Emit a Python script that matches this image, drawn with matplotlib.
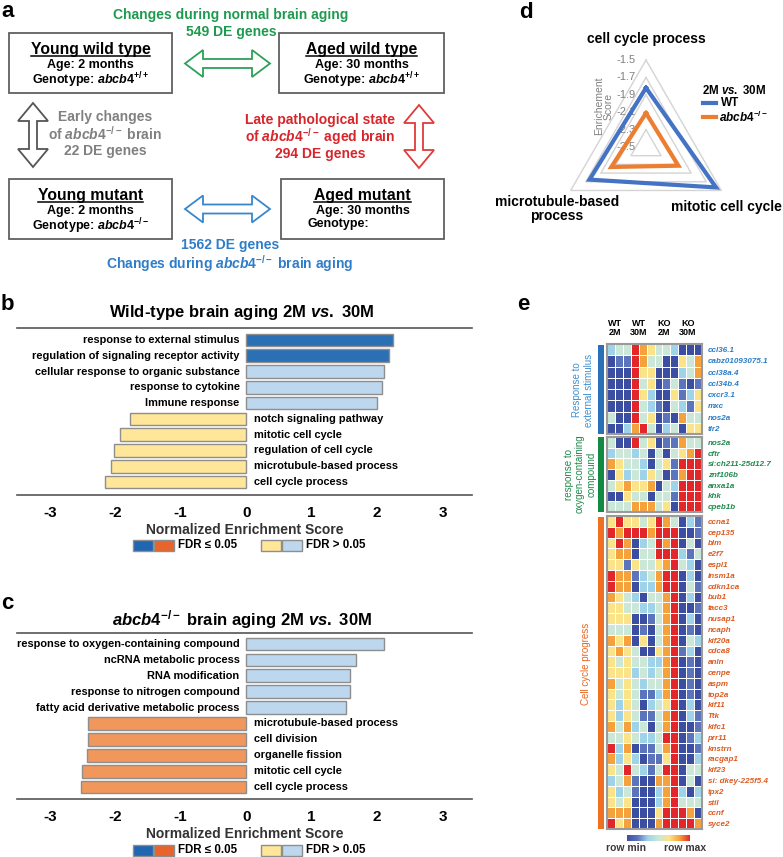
import numpy as np
import matplotlib
matplotlib.use('Agg')
import matplotlib.pyplot as plt
from matplotlib.patches import Rectangle, Polygon
from matplotlib.colors import LinearSegmentedColormap, Normalize
from matplotlib.cm import ScalarMappable
from matplotlib.lines import Line2D

plt.rcParams['font.family'] = ['Liberation Sans', 'DejaVu Sans']
plt.rcParams['font.weight'] = 'bold'
plt.rcParams['axes.labelweight'] = 'bold'
plt.rcParams['axes.unicode_minus'] = False
plt.rcParams['mathtext.fontset'] = 'custom'
plt.rcParams['mathtext.it'] = 'Liberation Sans:italic:bold'
plt.rcParams['mathtext.rm'] = 'Liberation Sans:bold'
plt.rcParams['mathtext.bf'] = 'Liberation Sans:bold'
plt.rcParams['mathtext.sf'] = 'Liberation Sans:bold'

W, H = 783, 857

# ---- panel b: wild-type aging GSEA
b_terms = ['response to external stimulus', 'regulation of signaling receptor activity',
           'cellular response to organic substance', 'response to cytokine', 'Immune response',
           'notch signaling pathway', 'mitotic cell cycle', 'regulation of cell cycle',
           'microtubule-based process', 'cell cycle process']
b_nes = [2.25, 2.18, 2.11, 2.07, 2.00, -1.77, -1.92, -2.02, -2.06, -2.15]
b_sig = [True, True, False, False, False, False, False, False, False, False]

# ---- panel c: abcb4-/- aging GSEA
c_terms = ['response to oxygen-containing compound', 'ncRNA metabolic process',
           'RNA modification', 'response to nitrogen compound',
           'fatty acid derivative metabolic process', 'microtubule-based process',
           'cell division', 'organelle fission', 'mitotic cell cycle', 'cell cycle process']
c_nes = [2.10, 1.68, 1.58, 1.58, 1.52, -2.41, -2.42, -2.43, -2.50, -2.52]
c_sig = [False, False, False, False, False, True, True, True, True, True]
nes_ticks = [-3, -2, -1, 0, 1, 2, 3]

# ---- panel d: radar
radar_terms = ['cell cycle process', 'mitotic cell cycle', 'microtubule-based\nprocess']
radar_wt = [-1.82, -1.57, -1.75]
radar_ko = [-2.11, -2.07, -2.04]
radar_ticks = [-1.5, -1.7, -1.9, -2.1, -2.3, -2.5]

# ---- panel e: heatmap (0 = row min ... 6 = row max)
heat_groups = ['WT\n2M', 'WT\n30M', 'KO\n2M', 'KO\n30M']
genes_ext = ['ccl36.1', 'cabz01093075.1', 'ccl38a.4', 'ccl34b.4', 'cxcr3.1', 'mxc', 'nos2a', 'tlr2']
heat_ext = [
    [2, 3, 3, 6, 5, 4, 3, 3, 2, 0, 0, 0],
    [0, 1, 1, 6, 5, 3, 3, 0, 0, 4, 3, 5],
    [0, 0, 0, 6, 4, 4, 0, 0, 0, 2, 3, 5],
    [0, 0, 0, 6, 3, 4, 0, 1, 3, 1, 0, 1],
    [0, 0, 0, 6, 4, 2, 0, 0, 4, 1, 2, 4],
    [0, 0, 0, 6, 3, 2, 1, 0, 3, 2, 1, 4],
    [3, 0, 0, 6, 3, 4, 0, 1, 0, 5, 3, 3],
    [0, 0, 2, 5, 6, 3, 0, 2, 3, 0, 4, 4],
]
genes_oxy = ['nos2a', 'cftr', 'si:ch211-25d12.7', 'znf106b', 'anxa1a', 'khk', 'cpeb1b']
heat_oxy = [
    [3, 0, 0, 6, 3, 4, 0, 1, 1, 5, 3, 3],
    [2, 3, 3, 2, 3, 0, 3, 0, 3, 4, 5, 6],
    [5, 4, 3, 3, 2, 0, 3, 4, 1, 6, 6, 6],
    [0, 4, 2, 3, 2, 4, 3, 0, 1, 5, 6, 6],
    [3, 4, 5, 4, 4, 5, 0, 3, 2, 6, 6, 6],
    [0, 0, 4, 3, 3, 0, 3, 3, 1, 6, 6, 6],
    [3, 3, 3, 5, 5, 5, 3, 4, 0, 6, 6, 6],
]
genes_cc = ['ccna1', 'cep135', 'blm', 'e2f7', 'espl1', 'insm1a', 'cdkn1ca', 'bub1', 'tacc3',
            'nusap1', 'ncaph', 'kif20a', 'cdca8', 'anln', 'cenpe', 'aspm', 'top2a', 'kif11',
            'Ttk', 'kifc1', 'prr11', 'knstrn', 'racgap1', 'kif23', 'si: dkey-225f5.4', 'tpx2',
            'stil', 'ccnf', 'syce2']
heat_cc = [
    [4, 6, 4, 4, 3, 4, 6, 5, 3, 0, 2, 1],
    [6, 5, 6, 6, 6, 5, 6, 6, 6, 0, 0, 1],
    [4, 6, 5, 0, 2, 3, 6, 5, 6, 0, 3, 0],
    [4, 5, 5, 0, 3, 3, 6, 6, 6, 2, 1, 3],
    [4, 4, 1, 4, 3, 3, 4, 5, 6, 3, 2, 0],
    [6, 5, 5, 1, 2, 3, 5, 6, 6, 0, 2, 0],
    [6, 5, 5, 0, 2, 2, 5, 6, 6, 0, 3, 1],
    [5, 4, 3, 2, 0, 3, 3, 5, 6, 0, 2, 0],
    [4, 4, 3, 3, 2, 2, 3, 5, 6, 0, 0, 1],
    [4, 4, 4, 0, 0, 1, 3, 5, 6, 0, 2, 0],
    [3, 3, 3, 0, 1, 0, 3, 5, 6, 0, 1, 0],
    [5, 4, 5, 0, 4, 0, 3, 5, 6, 0, 3, 2],
    [4, 5, 4, 3, 0, 0, 4, 5, 6, 1, 2, 0],
    [4, 3, 4, 3, 3, 2, 2, 5, 6, 0, 1, 0],
    [4, 4, 4, 2, 3, 2, 3, 5, 6, 0, 1, 0],
    [5, 3, 4, 3, 2, 3, 3, 5, 6, 0, 1, 0],
    [4, 3, 4, 3, 1, 1, 2, 5, 6, 0, 1, 0],
    [4, 2, 4, 3, 0, 2, 3, 4, 6, 0, 2, 0],
    [4, 2, 4, 3, 1, 1, 3, 5, 6, 0, 2, 1],
    [5, 3, 5, 2, 3, 0, 3, 5, 6, 0, 0, 1],
    [3, 3, 4, 3, 2, 2, 3, 6, 6, 0, 1, 2],
    [6, 2, 5, 0, 1, 1, 3, 5, 6, 0, 0, 1],
    [5, 2, 4, 2, 0, 1, 1, 4, 6, 0, 0, 2],
    [4, 3, 6, 3, 2, 1, 3, 6, 6, 0, 3, 3],
    [2, 3, 5, 1, 0, 0, 5, 5, 6, 0, 3, 0],
    [4, 2, 3, 1, 0, 0, 2, 5, 6, 2, 0, 2],
    [4, 3, 4, 0, 0, 0, 2, 5, 6, 3, 3, 3],
    [5, 5, 5, 0, 0, 0, 4, 6, 6, 6, 5, 0],
    [6, 4, 5, 0, 0, 0, 5, 6, 6, 6, 6, 5],
]

heat_cmap = LinearSegmentedColormap.from_list(
    'rowscale', ['#3b4ea1', '#5c74bb', '#9fd3ea', '#c9e7d8', '#fbe38a', '#f6a33c', '#e3262a'])

KO = r'$\mathit{abcb4}^{-/-}$'
WT = r'$\mathit{abcb4}^{+/+}$'

fig = plt.figure(figsize=(W / 100, H / 100), dpi=100)


def px_axes(x0, y0, x1, y1):
    return fig.add_axes([x0 / W, 1 - y1 / H, (x1 - x0) / W, (y1 - y0) / H])


# ---------------- GSEA bar panels
def nes_panel(rect, terms, nes, sig, ylim):
    ax = px_axes(*rect)
    ax.patch.set_alpha(0)
    y = np.arange(len(terms))
    cols = []
    for v, s in zip(nes, sig):
        if v > 0:
            cols.append('#2b6fb5' if s else '#bdd7ee')
        else:
            cols.append('#f2975c' if s else '#ffe699')
    ax.barh(y, nes, height=0.8, color=cols, edgecolor='#8e8e8e', linewidth=1.0)
    for i, (t, v) in enumerate(zip(terms, nes)):
        if v > 0:
            ax.text(-0.1, i, t, ha='right', va='center', fontsize=7.9)
        else:
            ax.text(0.12, i, t, ha='left', va='center', fontsize=7.9)
    ax.set_xlim(-3.5, 3.45)
    ax.set_ylim(*ylim)
    ax.set_yticks([])
    ax.set_xticks(nes_ticks)
    ax.tick_params(axis='x', length=0, labelsize=11, pad=8)
    for s in ['left', 'right']:
        ax.spines[s].set_visible(False)
    for s in ['top', 'bottom']:
        ax.spines[s].set_color('#555555')
        ax.spines[s].set_linewidth(1.2)
    ax.set_xlabel('Normalized Enrichment Score', fontsize=10, fontweight='bold',
                  color='#333333', labelpad=2)
    return ax


nes_panel((17, 328, 472, 495), b_terms, b_nes, b_sig, (9.82, -0.76))
nes_panel((17, 633, 472, 799), c_terms, c_nes, c_sig, (9.75, -0.69))

# ---------------- radar panel
ax_r = px_axes(546, 47, 746, 247)
ax_r.set_xlim(-1.15, 1.15)
ax_r.set_ylim(-1.15, 1.15)
ax_r.axis('off')
ang = np.deg2rad([90, -30, 210, 90])


def radar_xy(vals):
    r = np.array(list(vals) + [vals[0]]) + 2.5
    return r * np.cos(ang), r * np.sin(ang)


for t in radar_ticks[:-1]:
    gx, gy = radar_xy([t, t, t])
    ax_r.plot(gx, gy, color='#d4d4d4', lw=1.0, zorder=1)
for t in radar_ticks:
    ax_r.text(-0.12, t + 2.5, f'{t}', ha='right', va='center', fontsize=8,
              color='#7f7f7f', fontweight='normal', zorder=2)
wx, wy = radar_xy(radar_wt)
ax_r.plot(wx, wy, color='#4472c4', lw=3, solid_joinstyle='miter', zorder=3)
kx, ky = radar_xy(radar_ko)
ax_r.plot(kx, ky, color='#ed7d31', lw=3, solid_joinstyle='miter', zorder=3)

# ---------------- heatmap panel
def heat_block(rect, data, genes, color):
    ax = px_axes(*rect)
    ax.pcolormesh(np.array(data), cmap=heat_cmap, vmin=0, vmax=6,
                  edgecolors='white', linewidth=0.7)
    ax.set_xlim(0, 12)
    ax.set_ylim(len(data), 0)
    ax.set_xticks([])
    ax.set_yticks(np.arange(len(genes)) + 0.5)
    ax.set_yticklabels(genes)
    ax.yaxis.tick_right()
    ax.tick_params(axis='y', length=0, pad=4, labelsize=5.8, labelcolor=color)
    for lbl in ax.get_yticklabels():
        lbl.set_fontstyle('italic')
    for s in ax.spines.values():
        s.set_color('#9a9a9a')
        s.set_linewidth(1.5)
    return ax


heat_block((607, 344, 702, 434), heat_ext, genes_ext, '#2a7cc4')
heat_block((607, 437, 702, 512), heat_oxy, genes_oxy, '#1f8a4c')
heat_block((607, 516, 702, 829), heat_cc, genes_cc, '#dd5a1e')

cax = px_axes(627, 835, 690, 841)
cb = fig.colorbar(ScalarMappable(norm=Normalize(0, 6), cmap=heat_cmap), cax=cax,
                  orientation='horizontal')
cb.set_ticks([])
cb.outline.set_visible(False)

# ---------------- overlay for panel a and annotations
ov = fig.add_axes([0, 0, 1, 1])
ov.set_xlim(0, W)
ov.set_ylim(H, 0)
ov.axis('off')


def txt(x, y, s, size, color='black', ha='center', va='center', **kw):
    return ov.text(x, y, s, fontsize=size, color=color, ha=ha, va=va, **kw)


def darrow(x0, x1, c, color, vertical=False, hl=18, hh=13.5, sh=4.5):
    pts = [(x0, c), (x0 + hl, c - hh), (x0 + hl, c - sh), (x1 - hl, c - sh),
           (x1 - hl, c - hh), (x1, c), (x1 - hl, c + hh), (x1 - hl, c + sh),
           (x0 + hl, c + sh), (x0 + hl, c + hh)]
    if vertical:
        pts = [(b, a) for a, b in pts]
    ov.add_patch(Polygon(pts, closed=True, fill=False, edgecolor=color, lw=1.3))


# panel letters
for lx, ly, ch in [(1, 17, 'a'), (1, 310, 'b'), (1, 609, 'c'), (519, 18, 'd'), (517, 310, 'e')]:
    txt(lx, ly, ch, 16, ha='left', va='baseline')

# panel a boxes
boxes = [
    (9, 33, 'Young wild type', 'Age: 2 months', 'Genotype: ' + WT, 'center'),
    (279, 33, 'Aged wild type', 'Age: 30 months', 'Genotype: ' + WT, 'center'),
    (9, 179, 'Young mutant', 'Age: 2 months', 'Genotype: ' + KO, 'center'),
    (281, 179, 'Aged mutant', 'Age: 30 months', 'Genotype:', 'left'),
]
titles = []
for bx, by, t1, t2, t3, al in boxes:
    bw = 444 - bx if bx > 200 else 163
    ov.add_patch(Rectangle((bx, by), bw, 60, fill=False, edgecolor='#606060', lw=1.3))
    cx = bx + bw / 2
    titles.append(txt(cx, by + 16, t1, 11.3))
    txt(cx, by + 32, t2, 9)
    if al == 'left':
        txt(308, by + 48, t3, 9, ha='left', va='baseline')
    else:
        txt(cx, by + 51, t3, 9, va='baseline')

green, red, blue, grey = '#1e9a4f', '#d7262b', '#2f7dc8', '#808080'
txt(231, 15, 'Changes during normal brain aging', 10, green)
txt(231, 32, '549 DE genes', 10, green)
darrow(185, 270, 63.5, '#2ea05a')
darrow(185, 270, 209, '#3a86cc')
darrow(103, 167, 33, '#555555', vertical=True, hh=15, sh=4)
darrow(105, 168, 419, '#e03a3a', vertical=True, hh=15, sh=4)
txt(105, 117, 'Early changes', 10, grey)
txt(105, 134, 'of ' + KO + ' brain', 10, grey)
txt(105, 151, '22 DE genes', 10, grey)
txt(320, 120, 'Late pathological state', 10, red)
txt(320, 137, 'of ' + KO + ' aged brain', 10, red)
txt(320, 154, '294 DE genes', 10, red)
txt(230, 245, '1562 DE genes', 10, blue)
txt(230, 264, 'Changes during ' + KO + ' brain aging', 10, blue)

# panel b / c titles and legends
txt(242, 313, r'Wild-type brain aging 2M $\mathit{vs.}$ 30M', 12)
txt(242, 620, KO + r' brain aging 2M $\mathit{vs.}$ 30M', 12)
for ly in (545, 850):
    for x0, c in [(133, '#2166b0'), (154, '#e8642a'), (261, '#ffe699'), (282, '#bdd7ee')]:
        ov.add_patch(Rectangle((x0, ly - 5), 20, 11, facecolor=c, edgecolor='#8e8e8e', lw=1))
    txt(178, ly, 'FDR \u2264 0.05', 8.3, ha='left')
    txt(306, ly, 'FDR > 0.05', 8.3, ha='left')

# panel d labels and legend
txt(646, 39, radar_terms[0], 10)
txt(671, 207, radar_terms[1], 10, ha='left')
txt(557, 209, radar_terms[2], 10, linespacing=1.0)
txt(604, 106, 'Enrichement\nScore', 7.5, grey, rotation=90, fontweight='normal', linespacing=1.0)
txt(702, 90, r'2M $\mathit{vs.}$ 30M', 8.3, ha='left')
ov.add_line(Line2D([703, 716], [103, 103], color='#4472c4', lw=3))
ov.add_line(Line2D([703, 716], [117, 117], color='#ed7d31', lw=3))
txt(721, 103, 'WT', 8.5, ha='left')
txt(719, 117, KO, 8.5, ha='left')

# panel e labels
for hx, s in zip([615, 639, 664, 688], heat_groups):
    txt(hx, 328, s, 6.5, linespacing=1.1)
ov.add_patch(Rectangle((598, 345), 6, 89, color='#2a70b8', lw=0))
ov.add_patch(Rectangle((598, 437), 6, 75, color='#138a43', lw=0))
ov.add_patch(Rectangle((598, 517), 6, 312, color='#f07023', lw=0))
txt(583, 390, 'Response to\nexternal stimulus', 7, '#3f8fd2', rotation=90,
    fontweight='normal', linespacing=1.15)
txt(580, 474, 'response to\noxygen-containing\ncompound', 7, '#1f8a4c', rotation=90,
    fontweight='normal', linespacing=1.15)
txt(586, 664, 'Cell cycle progress', 7, '#e8641e', rotation=90, fontweight='normal')
txt(626, 848, 'row min', 7.5, '#3a3a3a')
txt(685, 848, 'row max', 7.5, '#3a3a3a')

# underline box titles
fig.canvas.draw()
inv = ov.transData.inverted()
for t in titles:
    bb = t.get_window_extent()
    (x0, y0), (x1, y1) = inv.transform([(bb.x0, bb.y0), (bb.x1, bb.y1)])
    ov.add_line(Line2D([x0, x1], [y0 - 0.5, y0 - 0.5], color='black', lw=1.1))

fig.savefig('out.png', dpi=100)
